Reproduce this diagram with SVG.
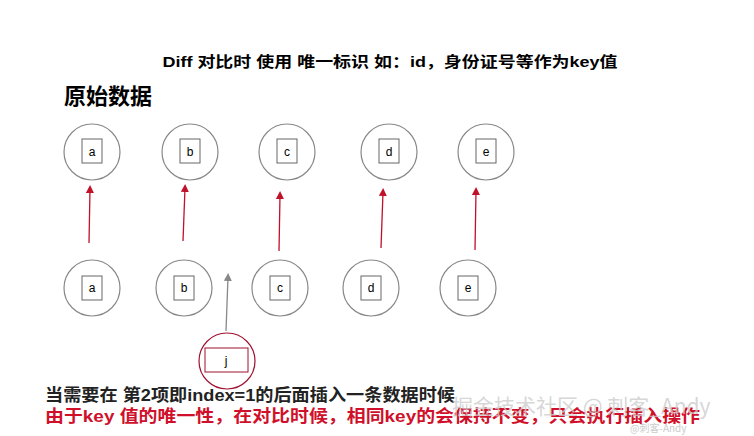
<svg xmlns="http://www.w3.org/2000/svg" width="754" height="436" viewBox="0 0 754 436">
<style>
.c{fill:#fff;stroke:#888;stroke-width:1.2}
.b{fill:#fff;stroke:#666;stroke-width:1}
.t{font-family:"Liberation Sans",Arial,sans-serif;font-size:12px;fill:#000;text-anchor:middle}
.h{font-family:"Liberation Sans","Noto Sans CJK SC",sans-serif;font-weight:bold}
.r{stroke:#c0102a;stroke-width:1.3;fill:none;marker-end:url(#ar)}
.g{stroke:#888;stroke-width:1.3;fill:none;marker-end:url(#ag)}
</style>
<defs>
<marker id="ar" markerWidth="8" markerHeight="8" refX="4" refY="4" orient="auto" markerUnits="userSpaceOnUse"><path d="M0,0 L8,4 L0,8z" fill="#c0102a"/></marker>
<marker id="ag" markerWidth="8" markerHeight="8" refX="4" refY="4" orient="auto" markerUnits="userSpaceOnUse"><path d="M0,0 L8,4 L0,8z" fill="#888"/></marker>
</defs>
<rect width="754" height="436" fill="#fff"/>
<text class="h" x="390" y="67" font-size="15" text-anchor="middle" fill="#000" textLength="455" lengthAdjust="spacingAndGlyphs">Diff 对比时 使用 唯一标识 如：id，身份证号等作为key值</text>
<text class="h" x="64" y="104" font-size="22" fill="#000">原始数据</text>
<g id="top-a"><circle class="c" cx="92" cy="152" r="28"/><rect class="b" x="82" y="139" width="20" height="24"/><text class="t" x="92" y="156">a</text></g>
<g id="top-b"><circle class="c" cx="190" cy="152" r="28"/><rect class="b" x="180" y="139" width="20" height="24"/><text class="t" x="190" y="156">b</text></g>
<g id="top-c"><circle class="c" cx="287" cy="152" r="28"/><rect class="b" x="277" y="139" width="20" height="24"/><text class="t" x="287" y="156">c</text></g>
<g id="top-d"><circle class="c" cx="389" cy="152" r="28"/><rect class="b" x="379" y="139" width="20" height="24"/><text class="t" x="389" y="156">d</text></g>
<g id="top-e"><circle class="c" cx="486" cy="152" r="28"/><rect class="b" x="476" y="139" width="20" height="24"/><text class="t" x="486" y="156">e</text></g>
<g id="bot-a"><circle class="c" cx="92" cy="288" r="28"/><rect class="b" x="82" y="276" width="20" height="24"/><text class="t" x="92" y="292">a</text></g>
<g id="bot-b"><circle class="c" cx="184" cy="288" r="28"/><rect class="b" x="174" y="276" width="20" height="24"/><text class="t" x="184" y="292">b</text></g>
<g id="bot-c"><circle class="c" cx="280" cy="288" r="28"/><rect class="b" x="270" y="276" width="20" height="24"/><text class="t" x="280" y="292">c</text></g>
<g id="bot-d"><circle class="c" cx="371" cy="288" r="28"/><rect class="b" x="361" y="276" width="20" height="24"/><text class="t" x="371" y="292">d</text></g>
<g id="bot-e"><circle class="c" cx="468" cy="288" r="28"/><rect class="b" x="458" y="276" width="20" height="24"/><text class="t" x="468" y="292">e</text></g>
<g id="new-j"><circle cx="227" cy="361" r="28" fill="#fff" stroke="#a01030" stroke-width="1.2"/><rect x="205" y="348" width="43" height="24" fill="#fff" stroke="#a01030"/><text class="t" x="226" y="365">j</text></g>
<g id="connectors">
<line class="r" x1="89" y1="243" x2="90" y2="189"/>
<line class="r" x1="183" y1="241" x2="185" y2="188"/>
<line class="r" x1="279" y1="251" x2="280" y2="195"/>
<line class="r" x1="381" y1="248" x2="383" y2="192"/>
<line class="r" x1="475" y1="250" x2="476" y2="191"/>
<line class="g" x1="226" y1="331" x2="228" y2="277"/>
</g>
<text class="h" x="45" y="401" font-size="17" fill="#222" textLength="410" lengthAdjust="spacingAndGlyphs">当需要在 第2项即index=1的后面插入一条数据时候</text>
<text class="h" x="45" y="422" font-size="17" fill="#d0102a" textLength="655" lengthAdjust="spacingAndGlyphs">由于key 值的唯一性，在对比时候，相同key的会保持不变，只会执行插入操作</text>
<text x="452" y="414" font-family="'Noto Sans CJK SC',sans-serif" font-size="21" fill="#ccc" fill-opacity="0.8">掘金技术社区 @ 刺客_Andy</text>
<text x="630" y="432" font-family="'Noto Sans CJK SC',sans-serif" font-size="10" fill="#ccc">@刺客-Andy</text>
</svg>
